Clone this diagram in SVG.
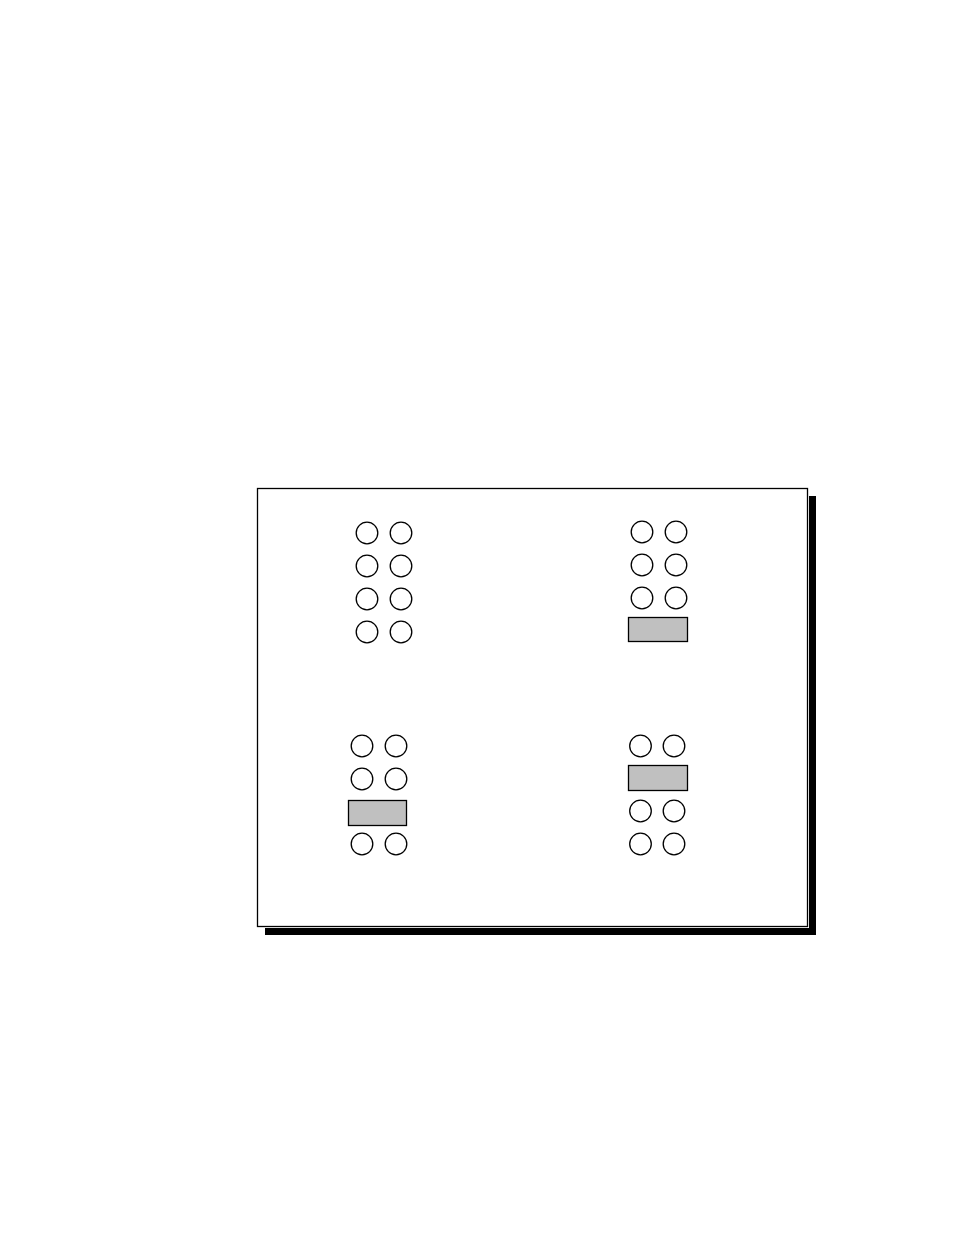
<svg xmlns="http://www.w3.org/2000/svg" width="954" height="1235" viewBox="0 0 954 1235">
<style>
.c{fill:none;stroke:#000;stroke-width:1.3}
.r{fill:#c0c0c0;stroke:#000;stroke-width:1.3}
</style>
<rect width="954" height="1235" fill="#fff"/>
<g id="frame">
<rect x="265" y="496" width="551" height="439" fill="#000"/>
<rect x="256" y="487" width="553" height="441" fill="#fff"/>
<rect x="257.5" y="488.5" width="550" height="438" fill="#fff" stroke="#000" stroke-width="1.3"/>
</g>
<g id="group-top-left">
<circle class="c" cx="367" cy="533" r="10.8"/><circle class="c" cx="401" cy="533" r="10.8"/>
<circle class="c" cx="367" cy="566" r="10.8"/><circle class="c" cx="401" cy="566" r="10.8"/>
<circle class="c" cx="367" cy="599" r="10.8"/><circle class="c" cx="401" cy="599" r="10.8"/>
<circle class="c" cx="367" cy="632" r="10.8"/><circle class="c" cx="401" cy="632" r="10.8"/>
</g>
<g id="group-top-right">
<circle class="c" cx="642" cy="532" r="10.8"/><circle class="c" cx="676" cy="532" r="10.8"/>
<circle class="c" cx="642" cy="565" r="10.8"/><circle class="c" cx="676" cy="565" r="10.8"/>
<circle class="c" cx="642" cy="598" r="10.8"/><circle class="c" cx="676" cy="598" r="10.8"/>
<rect class="r" x="628.5" y="617.5" width="59" height="24"/>
</g>
<g id="group-bottom-left">
<circle class="c" cx="362" cy="746" r="10.8"/><circle class="c" cx="396" cy="746" r="10.8"/>
<circle class="c" cx="362" cy="779" r="10.8"/><circle class="c" cx="396" cy="779" r="10.8"/>
<rect class="r" x="348.5" y="800.5" width="58" height="25"/>
<circle class="c" cx="362" cy="844" r="10.8"/><circle class="c" cx="396" cy="844" r="10.8"/>
</g>
<g id="group-bottom-right">
<circle class="c" cx="640.5" cy="746" r="10.8"/><circle class="c" cx="674" cy="746" r="10.8"/>
<rect class="r" x="628.5" y="765.5" width="59" height="25"/>
<circle class="c" cx="640.5" cy="811" r="10.8"/><circle class="c" cx="674" cy="811" r="10.8"/>
<circle class="c" cx="640.5" cy="844" r="10.8"/><circle class="c" cx="674" cy="844" r="10.8"/>
</g>
<g id="connectors"/>
</svg>
